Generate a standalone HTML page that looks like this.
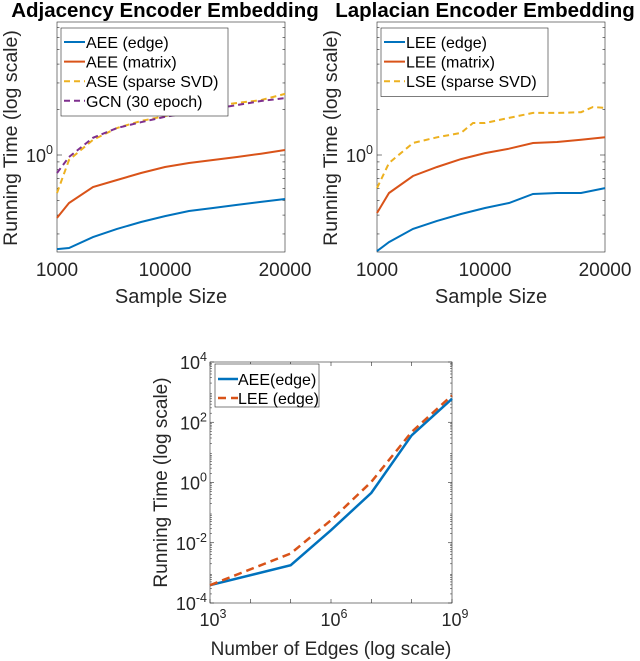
<!DOCTYPE html>
<html><head><meta charset="utf-8"><style>
body{margin:0;background:#fff}
svg{display:block;font-family:"Liberation Sans",sans-serif}
</style></head><body>
<svg id="s" width="640" height="661"></svg>
<script>
const xsTop=[1000,2000,4000,6000,8000,10000,12000,14000,16000,18000,20000];
const aeeEdge=[0.238,0.242,0.286,0.324,0.36,0.394,0.426,0.446,0.467,0.489,0.511];
const aeeMatrix=[0.383,0.481,0.614,0.683,0.76,0.833,0.885,0.927,0.97,1.02,1.08];
const aseSvd=[0.56,0.927,1.26,1.51,1.68,1.81,1.99,2.11,2.21,2.31,2.54];
const gcn=[0.76,0.97,1.30,1.51,1.65,1.79,1.90,2.02,2.14,2.28,2.38];
const leeEdge=[0.231,0.265,0.324,0.366,0.407,0.446,0.481,0.552,0.56,0.56,0.604];
const leeMatrix=[0.413,0.56,0.726,0.833,0.94,1.03,1.10,1.20,1.22,1.26,1.31];
const lseX=[1000,2000,4000,6000,8000,9000,10000,12000,14000,16000,18000,19000,20000];
const lseSvd=[0.604,0.885,1.2,1.31,1.4,1.63,1.63,1.76,1.9,1.9,1.92,2.08,2.05];
const edgesX=[1e3,1e5,1e6,1e7,1e8,1e9];
const aeeEdgeBig=[3.9e-4,1.8e-3,0.026,0.45,37,600];
const leeEdgeBig=[3.9e-4,4.4e-3,0.056,1.05,48,780];
const topXTicks=[1000,10000,20000];
const botTicksExp=[-4,-2,0,2,4];
const botXExp=[3,6,9];

const NS="http://www.w3.org/2000/svg";
const S=document.getElementById('s');
function mk(t,a,p){const e=document.createElementNS(NS,t);for(const k in a)e.setAttribute(k,a[k]);(p||S).appendChild(e);return e;}
const C={b:"#0072BD",o:"#D95319",y:"#EDB120",p:"#7E2F8E"};

function topPlot(x0,name,title,series,legend,lw){
  const x1=x0+228,y0=22,y1=252;
  const g=mk('g',{});
  
  
  const X=v=>x0+(v-1000)/19000*228;
  const Y=v=>155-Math.log10(v)*151;
  const t=mk('text',{x:(x0+x1)/2-6,y:17,'text-anchor':'middle','font-size':20.5,'font-weight':'bold',fill:'#000'},g);t.textContent=title;
  
  mk('rect',{x:x0,y:y0,width:228,height:230,fill:'#fff',stroke:'#262626','stroke-width':0.6},g);
  [0.3,0.4,0.5,0.6,0.7,0.8,0.9,2,3,4,5,6,7].forEach(v=>{const y=Y(v);if(y>y0&&y<y1){mk('line',{x1:x0,x2:x0+2.5,y1:y,y2:y,stroke:'#262626','stroke-width':0.6},g);mk('line',{x1:x1,x2:x1-2.5,y1:y,y2:y,stroke:'#262626','stroke-width':0.6},g);}});
  mk('line',{x1:x0,x2:x0+5,y1:Y(1),y2:Y(1),stroke:'#262626','stroke-width':0.6},g);
  mk('line',{x1:x1,x2:x1-5,y1:Y(1),y2:Y(1),stroke:'#262626','stroke-width':0.6},g);
  const yt=mk('text',{x:x0-4,y:Y(1)+7,'text-anchor':'end','font-size':18,fill:'#262626'},g);yt.innerHTML='10<tspan dy="-8" font-size="12.5">0</tspan>';
  
  topXTicks.forEach(v=>{const xt=mk('text',{x:X(v),y:276,'text-anchor':'middle','font-size':19,fill:'#262626'},g);xt.textContent=v;
    });
  const xl=mk('text',{x:(x0+x1)/2,y:303,'text-anchor':'middle','font-size':20,fill:'#262626'},g);xl.textContent='Sample Size';
  
  const yl=mk('text',{x:0,y:0,transform:`translate(${x0-40},138) rotate(-90)`,'text-anchor':'middle','font-size':19.5,fill:'#262626'},g);yl.textContent='Running Time (log scale)';
  
  series.forEach(s=>{
    const d=s.xs.map((v,i)=>(i?'L':'M')+X(v).toFixed(1)+','+Y(s.ys[i]).toFixed(1)).join('');
    const p=mk('path',{d,fill:'none',stroke:s.c,'stroke-width':2,'stroke-dasharray':s.dash?'6,4':'none'},g);
    
  });
  const lg=mk('g',{},g);
  mk('rect',{x:x0+4,y:28,width:lw,height:legend.length*19.5+10,fill:'#fff',stroke:'#262626','stroke-width':0.6},lg);
  legend.forEach((s,i)=>{const y=42+i*19.6;
    mk('line',{x1:x0+7,x2:x0+28,y1:y,y2:y,stroke:s.c,'stroke-width':2,'stroke-dasharray':s.dash?'6,4':'none'},lg);
    const tt=mk('text',{x:x0+29,y:y+6,'font-size':16,fill:'#000'},lg);tt.textContent=s.label;
    });
}
const L=[{xs:xsTop,ys:aeeEdge,c:C.b,n:'aee-edge',label:'AEE (edge)'},{xs:xsTop,ys:aeeMatrix,c:C.o,n:'aee-matrix',label:'AEE (matrix)'},
{xs:xsTop,ys:aseSvd,c:C.y,dash:1,n:'ase',label:'ASE (sparse SVD)'},{xs:xsTop,ys:gcn,c:C.p,dash:1,n:'gcn',label:'GCN (30 epoch)'}];
topPlot(57,'adjacency-chart','Adjacency Encoder Embedding',L,L,167);
const R=[{xs:xsTop,ys:leeEdge,c:C.b,n:'lee-edge',label:'LEE (edge)'},{xs:xsTop,ys:leeMatrix,c:C.o,n:'lee-matrix',label:'LEE (matrix)'},
{xs:lseX,ys:lseSvd,c:C.y,dash:1,n:'lse',label:'LSE (sparse SVD)'}];
topPlot(377,'laplacian-chart','Laplacian Encoder Embedding',R,R,167);

(function(){
  const x0=210,x1=452,y0=362,y1=603;
  const g=mk('g',{});
  const X=v=>x0+(Math.log10(v)-3)/6*(x1-x0);
  const Y=v=>y1-(Math.log10(v)+4)/8*(y1-y0);
  mk('rect',{x:x0,y:y0,width:x1-x0,height:y1-y0,fill:'#fff',stroke:'#262626','stroke-width':0.6},g);
  for(let e=-4;e<4;e++)for(let m=2;m<10;m++){const y=Y(m*Math.pow(10,e));
    mk('line',{x1:x0,x2:x0+2,y1:y,y2:y,stroke:'#262626','stroke-width':0.5},g);mk('line',{x1:x1,x2:x1-2,y1:y,y2:y,stroke:'#262626','stroke-width':0.5},g);}
  for(let e=3;e<=9;e++){const x=X(Math.pow(10,e));
    mk('line',{x1:x,x2:x,y1:y1,y2:y1-4,stroke:'#262626','stroke-width':0.6},g);mk('line',{x1:x,x2:x,y1:y0,y2:y0+4,stroke:'#262626','stroke-width':0.6},g);}
  botTicksExp.forEach(e=>{const y=Y(Math.pow(10,e));
    mk('line',{x1:x0,x2:x0+4,y1:y,y2:y,stroke:'#262626','stroke-width':0.6},g);mk('line',{x1:x1,x2:x1-4,y1:y,y2:y,stroke:'#262626','stroke-width':0.6},g);
    const t=mk('text',{x:x0-3,y:y+7,'text-anchor':'end','font-size':18,fill:'#262626'},g);t.innerHTML='10<tspan dy="-8" font-size="12.5">'+e+'</tspan>';
    });
  botXExp.forEach(e=>{const t=mk('text',{x:X(Math.pow(10,e))+3,y:626,'text-anchor':'middle','font-size':18,fill:'#262626'},g);t.innerHTML='10<tspan dy="-8" font-size="12.5">'+e+'</tspan>';
    });
  const xl=mk('text',{x:(x0+x1)/2,y:655,'text-anchor':'middle','font-size':19,fill:'#262626'},g);xl.textContent='Number of Edges (log scale)';
  
  const yl=mk('text',{x:0,y:0,transform:`translate(${x0-43},${(y0+y1)/2}) rotate(-90)`,'text-anchor':'middle','font-size':19,fill:'#262626'},g);yl.textContent='Running Time (log scale)';
  
  const ser=[{ys:aeeEdgeBig,c:C.b,n:'aee-edge',label:'AEE(edge)'},{ys:leeEdgeBig,c:C.o,dash:1,n:'lee-edge',label:'LEE (edge)'}];
  ser.forEach(s=>{const d=edgesX.map((v,i)=>(i?'L':'M')+X(v).toFixed(1)+','+Y(s.ys[i]).toFixed(1)).join('');
    const p=mk('path',{d,fill:'none',stroke:s.c,'stroke-width':2.5,'stroke-dasharray':s.dash?'8,5':'none'},g);
    });
  const lg=mk('g',{},g);
  mk('rect',{x:215,y:364,width:104,height:43,fill:'#fff',stroke:'#262626','stroke-width':0.6},lg);
  ser.forEach((s,i)=>{const y=379+i*19;
    mk('line',{x1:218,x2:238,y1:y,y2:y,stroke:s.c,'stroke-width':2.5,'stroke-dasharray':s.dash?'8,5':'none'},lg);
    const t=mk('text',{x:238,y:y+6,'font-size':16,fill:'#000'},lg);t.textContent=s.label;
    });
})();
</script>
</body></html>
